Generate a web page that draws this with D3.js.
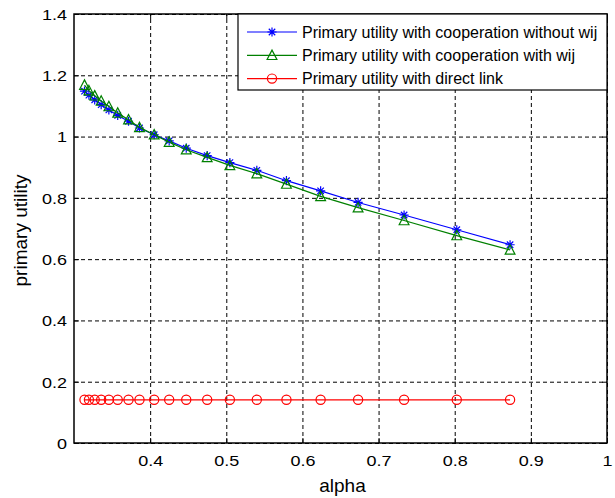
<!DOCTYPE html>
<html>
<head>
<meta charset="utf-8">
<script src="https://cdn.jsdelivr.net/npm/d3@7"></script>
<style>
  body { margin: 0; background: #fff; }
  text { font-family: "Liberation Sans", Arial, sans-serif; fill: #000; }
</style>
</head>
<body>
<div id="chart"></div>
<script>
// values
const alpha = [0.3138, 0.3196, 0.3272, 0.3357, 0.3458, 0.3574, 0.3716, 0.3860, 0.4053, 0.4250,
               0.4474, 0.4749, 0.5047, 0.5401, 0.5790, 0.6239, 0.6731, 0.7335, 0.8027, 0.8727];
const withoutWij = [1.148, 1.135, 1.120, 1.104, 1.087, 1.069, 1.050, 1.028, 1.006, 0.986,
                    0.962, 0.938, 0.915, 0.890, 0.856, 0.823, 0.785, 0.744, 0.696, 0.647];
const withWij = [1.168, 1.150, 1.133, 1.116, 1.098, 1.077, 1.055, 1.030, 1.006, 0.982,
                 0.957, 0.932, 0.906, 0.879, 0.845, 0.805, 0.768, 0.726, 0.677, 0.630];
const directLink = [0.141, 0.141, 0.141, 0.141, 0.141, 0.141, 0.141, 0.141, 0.141, 0.141,
                    0.141, 0.141, 0.141, 0.141, 0.141, 0.141, 0.141, 0.141, 0.141, 0.141];
const seriesNames = ['Primary utility with cooperation without wij',
                     'Primary utility with cooperation with wij',
                     'Primary utility with direct link'];
const xTicks = [0.4, 0.5, 0.6, 0.7, 0.8, 0.9, 1];
const yTicks = [0, 0.2, 0.4, 0.6, 0.8, 1, 1.2, 1.4];

const W = 615, H = 498;
const margin = { top: 14, right: 8, bottom: 55, left: 74 };
const iw = W - margin.left - margin.right;
const ih = H - margin.top - margin.bottom;

const svg = d3.select('#chart').append('svg').attr('width', W).attr('height', H);
const g = svg.append('g').attr('transform', `translate(${margin.left},${margin.top})`);

const x = d3.scaleLinear().domain([0.3, 1]).range([0, iw]);
const y = d3.scaleLinear().domain([0, 1.4]).range([ih, 0]);

// dotted grid
g.append('g').attr('transform', `translate(0,${ih})`)
  .call(d3.axisBottom(x).tickValues(xTicks).tickSize(-ih).tickFormat(''))
  .call(a => a.select('.domain').remove())
  .selectAll('line').attr('stroke', '#000').attr('stroke-dasharray', '4,3');
g.append('g')
  .call(d3.axisLeft(y).tickValues(yTicks).tickSize(-iw).tickFormat(''))
  .call(a => a.select('.domain').remove())
  .selectAll('line').attr('stroke', '#000').attr('stroke-dasharray', '4,3');

// inward ticks on all four sides
const fmt = d => d3.format('')(d);
const sx = 1.2; // the figure's tick text is a little wide
const xa = g.append('g').attr('transform', `translate(0,${ih})`)
  .call(d3.axisBottom(x).tickValues(xTicks).tickSizeInner(-5).tickSizeOuter(0).tickFormat(fmt));
xa.selectAll('text').attr('y', 23).attr('dy', null).attr('font-size', 15)
  .attr('transform', `scale(${sx},1)`);
g.append('g').call(d3.axisTop(x).tickValues(xTicks).tickSizeInner(-5).tickSizeOuter(0).tickFormat(''));

const ya = g.append('g')
  .call(d3.axisLeft(y).tickValues(yTicks).tickSizeInner(-5).tickSizeOuter(0).tickFormat(fmt));
ya.selectAll('text').attr('x', -7 / sx).attr('dy', '0.36em').attr('font-size', 15)
  .attr('transform', `scale(${sx},1)`);
g.append('g').attr('transform', `translate(${iw},0)`)
  .call(d3.axisRight(y).tickValues(yTicks).tickSizeInner(-5).tickSizeOuter(0).tickFormat(''));

g.selectAll('.domain').remove();
g.selectAll('.tick line').filter(function () { return !this.getAttribute('stroke-dasharray'); })
  .attr('stroke', '#000');

// box
g.append('rect').attr('width', iw).attr('height', ih)
  .attr('fill', 'none').attr('stroke', '#000').attr('stroke-width', 1.5);

// markers
const R = 4.6;
const markerPath = {
  star: `M${-R},0H${R}M0,${-R}V${R}M${-R * 0.7},${-R * 0.7}L${R * 0.7},${R * 0.7}M${-R * 0.7},${R * 0.7}L${R * 0.7},${-R * 0.7}`,
  tri: `M0,-5.2L4.9,4.2L-4.9,4.2Z`,
  circle: `M${R},0A${R},${R} 0 1,1 ${-R},0A${R},${R} 0 1,1 ${R},0Z`
};

const series = [
  { name: seriesNames[0], values: withoutWij, color: '#0000ff', marker: 'star' },
  { name: seriesNames[1], values: withWij, color: '#008000', marker: 'tri' },
  { name: seriesNames[2], values: directLink, color: '#ff0000', marker: 'circle' }
];

const line = d3.line().x((d, i) => x(alpha[i])).y(d => y(d));

series.forEach(s => {
  const sg = g.append('g');
  sg.append('path').datum(s.values).attr('d', line)
    .attr('fill', 'none').attr('stroke', s.color).attr('stroke-width', 1.2);
  sg.selectAll('.m').data(s.values).join('path')
    .attr('class', 'm')
    .attr('transform', (d, i) => `translate(${x(alpha[i])},${y(d)})`)
    .attr('d', markerPath[s.marker])
    .attr('fill', 'none').attr('stroke', s.color).attr('stroke-width', 1.2);
});

// axis labels
g.append('text').attr('x', iw / 2 + 2).attr('y', ih + 49)
  .attr('text-anchor', 'middle').attr('font-size', 19).text('alpha');
g.append('text').attr('transform', `translate(${-47},${ih / 2 + 2}) rotate(-90)`)
  .attr('text-anchor', 'middle').attr('font-size', 19).text('primary utility');

// legend
const lx = 164, lw = iw - lx;
const leg = g.append('g').attr('transform', `translate(${lx},0)`);
leg.append('rect').attr('width', lw).attr('height', 76)
  .attr('fill', '#fff').attr('stroke', '#000').attr('stroke-width', 1.2);
series.forEach((s, i) => {
  const ry = 18 + i * 23.3;
  leg.append('line').attr('x1', 9).attr('x2', 59).attr('y1', ry).attr('y2', ry)
    .attr('stroke', s.color).attr('stroke-width', 1.2);
  leg.append('path').attr('transform', `translate(34,${ry})`).attr('d', markerPath[s.marker])
    .attr('fill', 'none').attr('stroke', s.color).attr('stroke-width', 1.2);
  leg.append('text').attr('x', 64).attr('y', ry + 5.5).attr('font-size', 16).text(s.name);
});
</script>
</body>
</html>
